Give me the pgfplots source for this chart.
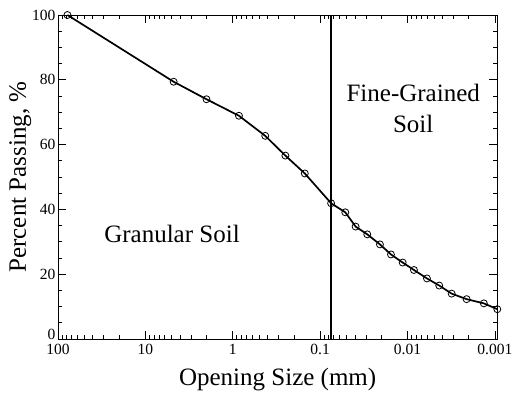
\documentclass[border=0pt]{standalone}
\usepackage{fontspec}
\setmainfont{Liberation Serif}
\newfontfamily\tnr{Liberation Serif}
\usepackage{pgfplots}
\pgfplotsset{compat=1.18}
\usetikzlibrary{calc}
\newcommand{\tickfont}{\tnr\fontsize{15.6}{18}\selectfont}
\newcommand{\bigfont}{\tnr\fontsize{25.1}{30}\selectfont}
\begin{document}
\begin{tikzpicture}
\begin{axis}[
  scale only axis, width=439.3bp, height=324bp,
  xmode=log, x dir=reverse, xmin=0.00094, xmax=100,
  ymin=0, ymax=100,
  xtick={0.001,0.01,0.1,1,10,100},
  xticklabels={0.001,0.01,0.1,1,10,100},
  minor xtick={0.002,0.003,0.004,0.005,0.006,0.007,0.008,0.009,
    0.02,0.03,0.04,0.05,0.06,0.07,0.08,0.09,
    0.2,0.3,0.4,0.5,0.6,0.7,0.8,0.9,
    2,3,4,5,6,7,8,9,20,30,40,50,60,70,80,90},
  ytick={0,20,40,60,80,100},
  yticklabels={\smash{0}\hspace{5bp},20,40,60,80,100},
  minor ytick={5,10,15,25,30,35,45,50,55,65,70,75,85,90,95},
  tick align=inside, tick pos=both,
  major tick length=8bp, minor tick length=4bp,
  axis line style={line width=0.8bp},
  every tick/.style={black, line width=0.7bp},
  xticklabel style={font=\tickfont, yshift=-2bp},
  yticklabel style={font=\tickfont, xshift=1bp},
  xlabel style={font=\bigfont, yshift=-6bp},
  ylabel style={font=\bigfont, yshift=-6bp},
  xlabel={Opening Size (mm)},
  ylabel={Percent Passing, \%},
  clip=false,
]
\addplot[black, line width=1.7bp, mark=o, mark size=3.5bp,
  mark options={line width=0.8bp, fill=none}] coordinates {
  (78,100) (4.75,79.4) (2.0,74.0) (0.85,68.9) (0.425,62.7) (0.25,56.6)
  (0.15,51.1) (0.075,41.9) (0.0516,39.1) (0.0393,34.7) (0.0289,32.3)
  (0.0207,29.2) (0.01549,26.1) (0.01138,23.6) (0.00845,21.3)
  (0.0060,18.7) (0.00434,16.5) (0.00313,14.0) (0.00211,12.3)
  (0.00134,11.0) (0.00094,9.2)
};
\addplot[black, line width=2bp] coordinates {(0.075,0) (0.075,100)};
\node[anchor=base, font=\bigfont] at (axis cs:4.96,29.8) {Granular Soil};
\node[anchor=base, font=\bigfont] at (axis cs:0.00861,73.2) {Fine-Grained};
\node[anchor=base, font=\bigfont] at (axis cs:0.00861,63.8) {Soil};
\coordinate (sw) at (rel axis cs:0,0);
\end{axis}
\pgfresetboundingbox
\useasboundingbox ($(sw)+(-58bp,-56bp)$) rectangle ($(sw)+(454bp,339bp)$);
\end{tikzpicture}
\end{document}
